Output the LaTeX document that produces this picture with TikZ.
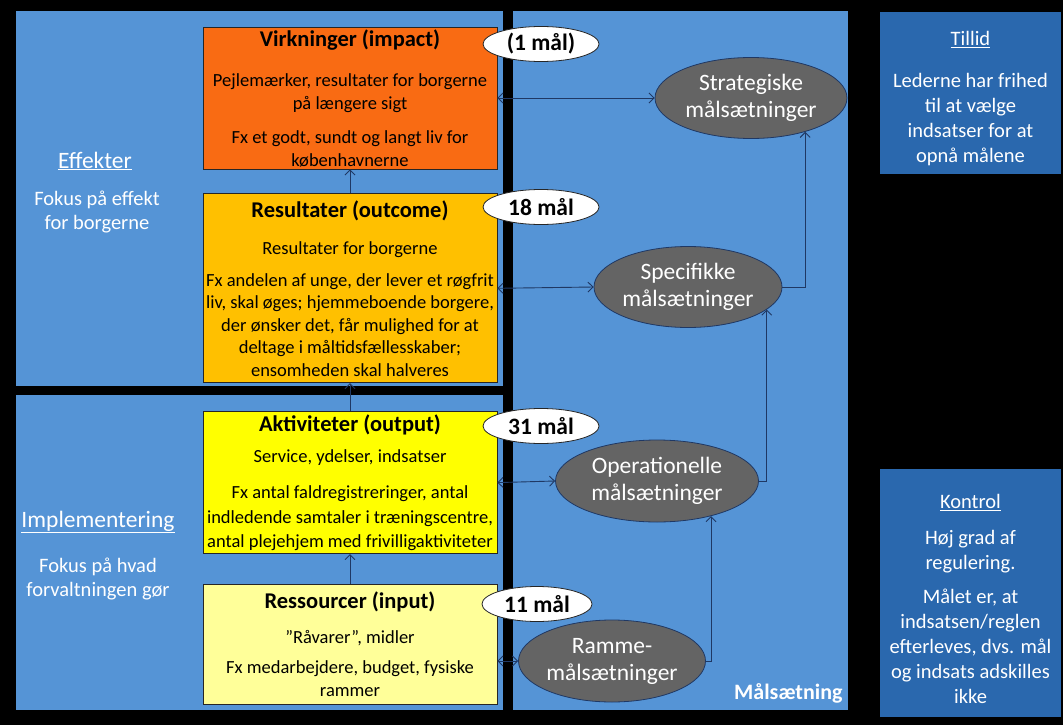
\documentclass[tikz,border=0pt]{standalone}
\usepackage{fontspec}
\setmainfont{Carlito}
\usepackage{xcolor}
\usetikzlibrary{shapes.geometric}
\usetikzlibrary{positioning}
\usetikzlibrary{arrows.meta}

\definecolor{panelblue}{HTML}{5594D6}
\definecolor{modeblue}{HTML}{2A68AE}
\definecolor{impactorange}{HTML}{F96B13}
\definecolor{outcomegold}{HTML}{FFC000}
\definecolor{outputyellow}{HTML}{FFFF00}
\definecolor{inputyellow}{HTML}{FFFF99}
\definecolor{goalgray}{HTML}{646464}
\definecolor{linknavy}{HTML}{1F3864}

\newcommand{\boxtitle}[1]{{\fontsize{22.5}{24}\selectfont\bfseries #1}}

\begin{document}
\begin{tikzpicture}[x=1pt, y=-1pt,
        box/.style={rectangle, draw=black!85, line width=0.8pt, minimum width=294pt, align=center, inner sep=1pt, font=\fontsize{18.5}{22.5}\selectfont},
        count/.style={ellipse, draw=black!85, fill=white, line width=0.8pt, minimum width=116pt, minimum height=35pt, inner sep=0pt, font=\fontsize{23.5}{25}\selectfont\bfseries},
        goal/.style={ellipse, draw=linknavy, fill=goalgray, line width=0.8pt, inner sep=0pt, align=center, text=white, font=\fontsize{23.5}{27}\selectfont},
        head/.style={text=white, font=\fontsize{23.5}{26}\selectfont},
        side/.style={text=white, align=center, font=\fontsize{20.5}{24}\selectfont},
        mode/.style={rectangle, fill=modeblue, minimum width=181pt, align=center, inner sep=0pt, text=white, font=\fontsize{20.5}{25}\selectfont},
        arrow/.style={-{Straight Barb[length=5pt, width=10pt]}, line width=0.9pt, color=linknavy},
        biarrow/.style={{Straight Barb[length=5pt, width=10pt]}-{Straight Barb[length=5pt, width=10pt]}, line width=0.9pt, color=linknavy}
    ]

        % panels
        \fill[black] (0,0) rectangle (1063,725);
        \fill[panelblue] (16,11) rectangle (503,386);
        \fill[panelblue] (16,395) rectangle (503,710);
        \fill[panelblue] (513,11) rectangle (848,710);

        % chain of results
        \node[box, fill=impactorange, minimum height=142pt] (virk) at (350,98) {\boxtitle{Virkninger (impact)}\\[18pt]
            Pejlemærker, resultater for borgerne\\
            på længere sigt\\[12pt]
            Fx et godt, sundt og langt liv for\\
            københavnerne};
        \node[box, fill=outcomegold, minimum height=189pt, below=24pt of {virk}] (resu) {\boxtitle{Resultater (outcome)}\\[15pt]
            Resultater for borgerne\\[9pt]
            Fx andelen af unge, der lever et røgfrit\\
            liv, skal øges; hjemmeboende borgere,\\
            der ønsker det, får mulighed for at\\
            deltage i måltidsfællesskaber;\\
            ensomheden skal halveres};
        \node[box, fill=outputyellow, minimum height=142pt, below=28pt of {resu}] (akt) {\boxtitle{Aktiviteter (output)}\\[8.5pt]
            Service, ydelser, indsatser\\[14pt]
            Fx antal faldregistreringer, antal\\[2pt]
            indledende samtaler i træningscentre,\\[1.5pt]
            antal plejehjem med frivilligaktiviteter};
        \node[box, fill=inputyellow, minimum height=120pt, below=30pt of {akt}] (ress) {\boxtitle{Ressourcer (input)}\\[12.5pt]
            ”Råvarer”, midler\\[7.5pt]
            Fx medarbejdere, budget, fysiske\\
            rammer};

        % goals
        \node[goal, minimum width=192pt, minimum height=81pt] (strat) at (751,98) {Strategiske\\målsætninger};
        \node[goal, minimum width=188pt, minimum height=81pt] (spec) at (688,287) {Specifikke\\målsætninger};
        \node[goal, minimum width=203pt, minimum height=82pt] (oper) at (657,481) {Operationelle\\målsætninger};
        \node[goal, minimum width=187pt, minimum height=82pt] (ramme) at (612,661) {Ramme-\\målsætninger};

        % side texts
        \node[head] (effhead) at (95,161) {\underline{Effekter}};
        \node[side] (efftext) at (97,212) {Fokus på effekt\\for borgerne};
        \node[head] (imphead) at (98,522) {\underline{Implementering}};
        \node[side] (imptext) at (98,579) {Fokus på hvad\\forvaltningen gør};
        \node[text=white, anchor=east, font=\fontsize{22}{24}\selectfont\bfseries] (goalhead) at (846,693) {Målsætning};

        \node[mode, minimum height=162pt] (trust) at (970.5,93) {\rule{0pt}{26pt}\underline{Tillid}\\[17pt]
            Lederne har frihed\\ til at vælge\\ indsatser for at\\ opnå målene};
        \node[mode, minimum height=248pt] (control) at (970.5,593) {\rule{0pt}{26pt}\underline{Kontrol}\\[11pt]
            Høj grad af\\ regulering.\\[9pt]
            Målet er, at\\ indsatsen/reglen\\ efterleves, dvs. mål\\ og indsats adskilles\\ ikke};

        % connectors
        \draw[arrow] (ress) -- (akt);
        \draw[arrow] (akt) -- (resu);
        \draw[arrow] (resu) -- (virk);

        \draw[biarrow] (virk.east) -- (strat.west);
        \draw[biarrow] (resu.east) -- (spec.west);
        \draw[biarrow] (akt.east) -- (oper.west);
        \draw[biarrow] (ramme.west -| ress.east) -- (ramme.west);

        \draw[arrow] (ramme.east) -| (oper.-33);
        \draw[arrow] (oper.east) -| (spec.-16);
        \draw[arrow] (spec.east) -| (strat.-32);

        % number of goals
        \node[count] (nvirk) at (541,44) {(1 mål)};
        \node[count] (nresu) at (541,207) {18 mål};
        \node[count] (nakt) at (541,426) {31 mål};
        \node[count, minimum width=110pt] (nress) at (537,604) {11 mål};
    \end{tikzpicture}
\end{document}
